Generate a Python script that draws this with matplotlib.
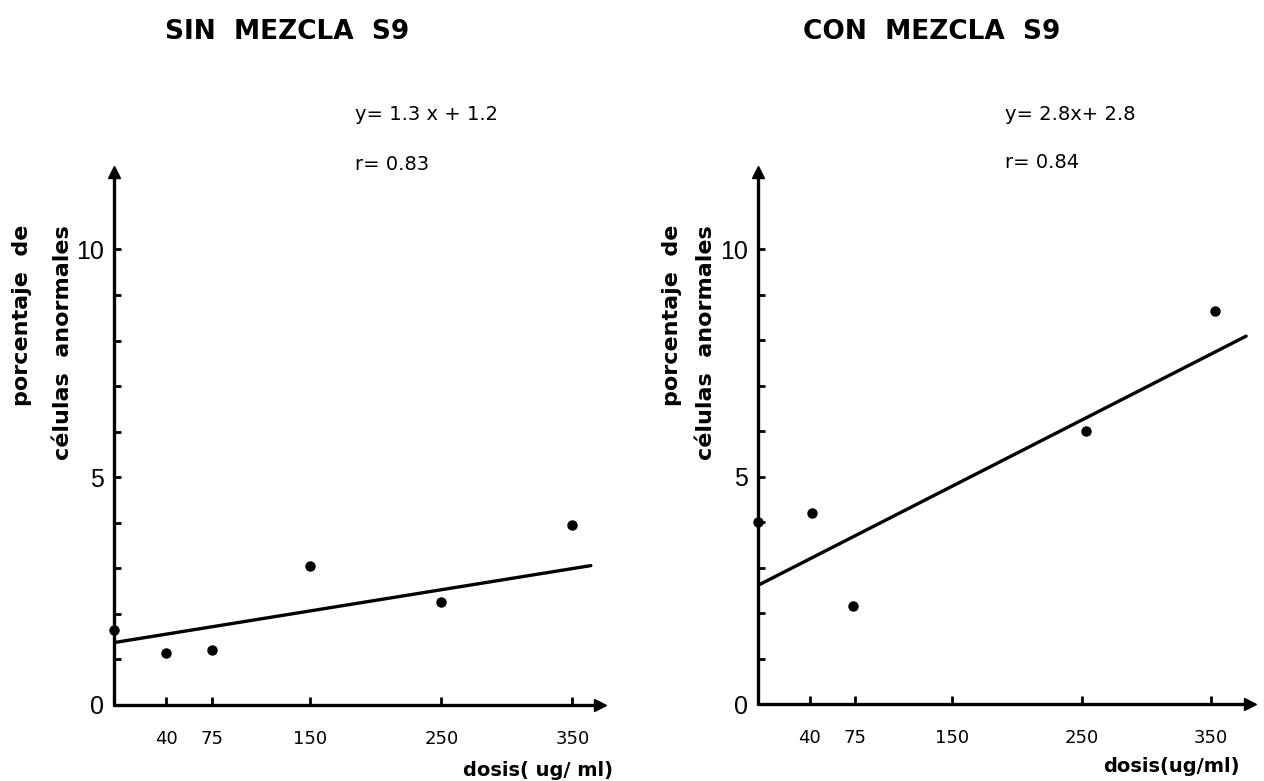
import matplotlib
matplotlib.use('Agg')
import matplotlib.pyplot as plt
from matplotlib.ticker import FixedLocator

plt.rcParams['font.family'] = 'DejaVu Sans'

# Datos
dosis_sin = [0, 40, 75, 150, 250, 350]
celulas_sin = [1.65, 1.15, 1.2, 3.05, 2.27, 3.95]
recta_sin_x = [0, 364]
recta_sin_y = [1.37, 3.06]

dosis_con = [0, 42, 73, 253, 353]
celulas_con = [4.0, 4.2, 2.15, 6.0, 8.65]
recta_con_x = [0, 377]
recta_con_y = [2.61, 8.09]

x_ticks = [40, 75, 150, 250, 350]
y_major = [0, 5, 10]
y_minor = [1, 2, 3, 4, 6, 7, 8, 9]

W, H = 1264, 781
fig = plt.figure(figsize=(W / 100, H / 100), dpi=100)


def px(x, y):
    return x / W, 1 - y / H


def panel(rect, xmax, dosis, celulas, rx, ry):
    ax = fig.add_axes(rect)
    ax.set_xlim(0, xmax)
    ax.set_ylim(0, 11.7)
    for s in ['top', 'right']:
        ax.spines[s].set_visible(False)
    for s in ['left', 'bottom']:
        ax.spines[s].set_linewidth(2.4)
        ax.spines[s].set_capstyle('round')

    ax.plot(rx, ry, color='black', linewidth=2.4, solid_capstyle='round')
    ax.plot(dosis, celulas, 'o', color='black', markersize=6.5, clip_on=False)

    # flechas al final de los ejes
    ax.plot(1, 0, '>', color='black', markersize=9, transform=ax.transAxes, clip_on=False)
    ax.plot(0, 1, '^', color='black', markersize=8, transform=ax.transAxes, clip_on=False)

    ax.xaxis.set_major_locator(FixedLocator(x_ticks))
    ax.set_xticklabels([str(t) for t in x_ticks])
    ax.tick_params(axis='x', direction='in', length=6, width=2, pad=18, labelsize=13)

    ax.yaxis.set_major_locator(FixedLocator(y_major))
    ax.yaxis.set_minor_locator(FixedLocator(y_minor))
    ax.set_yticklabels([str(t) for t in y_major])
    ax.tick_params(axis='y', which='both', direction='in', length=5, width=2, pad=7)
    for lbl in ax.get_yticklabels():
        lbl.set_fontsize(18)
        lbl.set_family('Liberation Sans')
    return ax


x0, y0 = px(114, 705)
x1, y1 = px(600, 172)
ax1 = panel([x0, y0, x1 - x0, y1 - y0], 371, dosis_sin, celulas_sin, recta_sin_x, recta_sin_y)

x0, y0 = px(758, 704)
x1, y1 = px(1250, 172)
ax2 = panel([x0, y0, x1 - x0, y1 - y0], 380, dosis_con, celulas_con, recta_con_x, recta_con_y)

# titulos
fig.text(*px(287, 32), 'SIN  MEZCLA  S9', ha='center', va='center', fontsize=19, fontweight='bold')
fig.text(*px(932, 32), 'CON  MEZCLA  S9', ha='center', va='center', fontsize=19, fontweight='bold')

# ecuaciones
fig.text(*px(355, 115), 'y= 1.3 x + 1.2', ha='left', va='center', fontsize=14)
fig.text(*px(355, 165), 'r= 0.83', ha='left', va='center', fontsize=14)
fig.text(*px(1005, 115), 'y= 2.8x+ 2.8', ha='left', va='center', fontsize=14)
fig.text(*px(1005, 163), 'r= 0.84', ha='left', va='center', fontsize=14)

# etiquetas de los ejes
for xl1, xl2 in [(22, 63), (672, 706)]:
    fig.text(*px(xl1, 225), 'porcentaje  de', rotation=90, ha='center', va='top',
             fontsize=16, fontweight='bold')
    fig.text(*px(xl2, 225), 'células  anormales', rotation=90, ha='center', va='top',
             fontsize=16, fontweight='bold')

fig.text(*px(613, 771), 'dosis( ug/ ml)', ha='right', va='center', fontsize=14, fontweight='bold')
fig.text(*px(1240, 767), 'dosis(ug/ml)', ha='right', va='center', fontsize=14, fontweight='bold')

fig.savefig('out.png', dpi=100)
